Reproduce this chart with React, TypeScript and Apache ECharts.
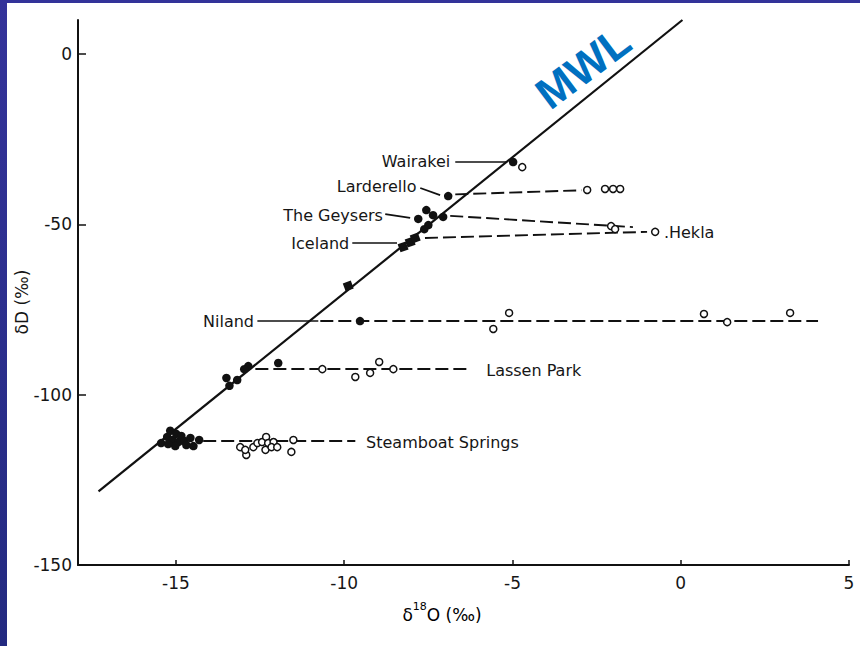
import React, { useEffect, useRef } from "react";
import * as echarts from "echarts";

// Axis ticks
const X_TICKS = [-15, -10, -5, 0, 5];
const Y_TICKS = [0, -50, -100, -150];

// Meteoric water line end points (δ18O, δD)
const mwlLine = [[-17.3, -128.4], [0.05, 10]];

// Filled marks: local meteoric water; open marks: thermal water
const wairakeiMeteoric = [[-4.98, -31.7]];
const wairakeiThermal = [[-4.71, -33.2]];
const larderelloMeteoric = [[-6.91, -41.7]];
const larderelloThermal = [[-2.78, -39.9], [-2.25, -39.6], [-2.01, -39.6], [-1.8, -39.6]];
const geysersMeteoric = [[-7.8, -48.4], [-7.56, -45.8], [-7.36, -47.3], [-7.06, -47.8], [-7.5, -50.2], [-7.62, -51.4]];
const geysersThermal = [[-2.07, -50.5], [-1.95, -51.4]];
const icelandMeteoric = [[-8.25, -56.6], [-8.04, -55.2], [-7.89, -54.0]];
const heklaThermal = [[-0.76, -52.2]];
const lineSquare = [[-9.88, -68.1]];
const nilandMeteoric = [[-9.53, -78.4]];
const nilandThermal = [[-5.57, -80.7], [-5.1, -76.0], [0.69, -76.3], [1.38, -78.7], [3.25, -76.0]];
const lassenMeteoric = [[-12.85, -91.6], [-12.97, -92.5], [-11.96, -90.7], [-13.5, -95.1], [-13.18, -95.7], [-13.41, -97.4]];
const lassenThermal = [[-10.65, -92.5], [-9.67, -94.8], [-9.23, -93.6], [-8.96, -90.4], [-8.54, -92.5]];
const steamboatMeteoric = [
  [-15.44, -114.2], [-15.26, -112.4], [-15.17, -110.6], [-15.11, -113.3], [-14.99, -111.5],
  [-14.93, -113.9], [-14.84, -112.1], [-14.75, -113.6], [-14.69, -114.8], [-14.57, -112.7],
  [-14.48, -115.1], [-14.31, -113.3], [-15.02, -115.1], [-15.23, -114.5],
];
const steamboatThermal = [
  [-13.09, -115.4], [-12.91, -117.7], [-12.94, -116.2], [-12.7, -115.4], [-12.58, -114.2],
  [-12.44, -113.9], [-12.32, -112.4], [-12.26, -114.2], [-12.34, -116.2], [-12.1, -113.9],
  [-12.16, -115.4], [-11.99, -115.4], [-11.51, -113.3], [-11.57, -116.8],
];

// Oxygen-shift trends (dashed)
const larderelloTrend = [[-6.7, -41.2], [-2.95, -40.0]];
const geysersTrend = [[-6.85, -47.5], [-1.42, -50.8]];
const icelandTrend = [[-7.6, -54.0], [-1.0, -52.2]];
const nilandTrend = [[-10.71, -78.4], [4.08, -78.4]];
const lassenTrend = [[-12.64, -92.5], [-6.26, -92.5]];
const steamboatTrend = [[-14.19, -113.6], [-9.67, -113.6]];

// Label leaders (solid)
const wairakeiLeader = [[-6.7, -31.7], [-5.16, -31.7]];
const larderelloLeader = [[-7.74, -39.3], [-7.15, -41.4]];
const geysersLeader = [[-8.78, -47.0], [-8.04, -48.1]];
const icelandLeader = [[-9.76, -55.5], [-8.43, -55.5]];
const nilandLeader = [[-12.58, -78.4], [-10.77, -78.4]];

// Site names, where they sit, and which side of the anchor they go
const siteNames = ["Wairakei", "Larderello", "The Geysers", "Iceland", "Niland", "Lassen Park", "Steamboat Springs", ".Hekla"];
const siteAnchors = [[-6.85, -31.4], [-7.85, -39.0], [-8.85, -47.3], [-9.85, -55.5], [-12.68, -78.4], [-5.78, -92.8], [-9.35, -113.9], [-0.5, -52.5]];
const siteSides = ["left", "left", "left", "left", "left", "right", "right", "right"];

const FONT = "DejaVu Sans";
const INK = "#111111";
const TEXT = "#161616";

export default function App() {
  const ref = useRef<HTMLDivElement>(null);

  useEffect(() => {
    if (!ref.current) return;
    const chart = echarts.init(ref.current, undefined, { renderer: "svg" });

    const filled = [
      ...wairakeiMeteoric, ...larderelloMeteoric, ...geysersMeteoric, ...nilandMeteoric,
      ...lassenMeteoric, ...steamboatMeteoric,
    ];
    const squares = [...icelandMeteoric, ...lineSquare];
    const open = [
      ...wairakeiThermal, ...larderelloThermal, ...geysersThermal, ...heklaThermal,
      ...nilandThermal, ...lassenThermal, ...steamboatThermal,
    ];
    const trends = [larderelloTrend, geysersTrend, icelandTrend, nilandTrend, lassenTrend, steamboatTrend];
    const leaders = [wairakeiLeader, larderelloLeader, geysersLeader, icelandLeader, nilandLeader];

    chart.setOption({
      animation: false,
      backgroundColor: "#ffffff",
      grid: { left: 78, right: 11, top: 20, bottom: 81, containLabel: false },
      xAxis: {
        type: "value",
        min: -17.91,
        max: 5,
        splitLine: { show: false },
        axisLine: { onZero: false, lineStyle: { color: INK, width: 2 } },
        axisTick: { inside: true, length: 5, customValues: X_TICKS, lineStyle: { color: INK, width: 1.5 } },
        axisLabel: {
          customValues: X_TICKS,
          margin: 9,
          color: TEXT,
          fontFamily: FONT,
          fontSize: 17,
          formatter: (v: number) => String(v),
        },
      },
      yAxis: {
        type: "value",
        min: -150,
        max: 10,
        splitLine: { show: false },
        axisLine: { onZero: false, lineStyle: { color: INK, width: 2 } },
        axisTick: { inside: true, length: 8, customValues: Y_TICKS, lineStyle: { color: INK, width: 1.5 } },
        axisLabel: {
          customValues: Y_TICKS,
          margin: 6,
          color: TEXT,
          fontFamily: FONT,
          fontSize: 17,
          formatter: (v: number) => String(v),
        },
      },
      series: [
        {
          type: "line",
          data: mwlLine,
          symbol: "none",
          clip: true,
          lineStyle: { color: INK, width: 2.2 },
          z: 2,
        },
        {
          type: "lines",
          coordinateSystem: "cartesian2d",
          data: trends.map((c) => ({ coords: c })),
          lineStyle: { color: INK, width: 1.9, type: [13, 5], opacity: 1 },
          z: 3,
        },
        {
          type: "lines",
          coordinateSystem: "cartesian2d",
          data: leaders.map((c) => ({ coords: c })),
          lineStyle: { color: INK, width: 1.7, type: "solid", opacity: 1 },
          z: 3,
        },
        {
          type: "scatter",
          data: open,
          symbol: "circle",
          symbolSize: 7,
          itemStyle: { color: "#ffffff", borderColor: INK, borderWidth: 1.5, opacity: 1 },
          z: 4,
        },
        {
          type: "scatter",
          data: filled,
          symbol: "circle",
          symbolSize: 8.5,
          itemStyle: { color: INK, opacity: 1 },
          z: 5,
        },
        {
          type: "scatter",
          data: squares,
          symbol: "rect",
          symbolSize: 8.5,
          symbolRotate: 20,
          itemStyle: { color: INK, opacity: 1 },
          z: 5,
        },
        {
          type: "scatter",
          symbolSize: 0,
          silent: true,
          itemStyle: { opacity: 1 },
          data: siteNames.map((name, i) => ({
            name,
            value: siteAnchors[i],
            label: { position: siteSides[i] },
          })),
          label: {
            show: true,
            distance: 0,
            formatter: (p: any) => p.name,
            color: TEXT,
            opacity: 1,
            fontFamily: FONT,
            fontSize: 16,
          },
          z: 6,
        },
      ],
      graphic: [
        { type: "rect", left: 0, top: 0, shape: { width: 860, height: 3 }, style: { fill: "#333399" }, silent: true },
        {
          type: "rect",
          left: 0,
          top: 0,
          shape: { width: 7, height: 646 },
          style: {
            fill: new echarts.graphic.LinearGradient(0, 0, 0, 1, [
              { offset: 0, color: "#34339a" },
              { offset: 1, color: "#232a80" },
            ]),
          },
          silent: true,
        },
        {
          type: "text",
          x: 22,
          y: 302,
          rotation: Math.PI / 2,
          style: {
            text: "δD (‰)",
            fill: TEXT,
            font: `17px "${FONT}"`,
            align: "center",
            verticalAlign: "middle",
          },
        },
        {
          type: "text",
          x: 442,
          y: 612,
          style: {
            text: "{b|δ}{s|18}{b|O (‰)}",
            align: "center",
            verticalAlign: "middle",
            rich: {
              b: { fontFamily: FONT, fontSize: 17, color: TEXT, lineHeight: 22, verticalAlign: "bottom" },
              s: { fontFamily: FONT, fontSize: 11, color: TEXT, lineHeight: 22, verticalAlign: "top" },
            },
          },
        },
        {
          type: "text",
          x: 583,
          y: 67,
          rotation: (37 * Math.PI) / 180,
          style: {
            text: "MWL",
            fill: "#0070c0",
            font: `bold 44px "Liberation Sans"`,
            align: "center",
            verticalAlign: "middle",
          },
        },
      ],
    });

    return () => chart.dispose();
  }, []);

  return (
    <div
      ref={ref}
      style={{ position: "fixed", left: 0, top: 0, width: 860, height: 646 }}
    />
  );
}
